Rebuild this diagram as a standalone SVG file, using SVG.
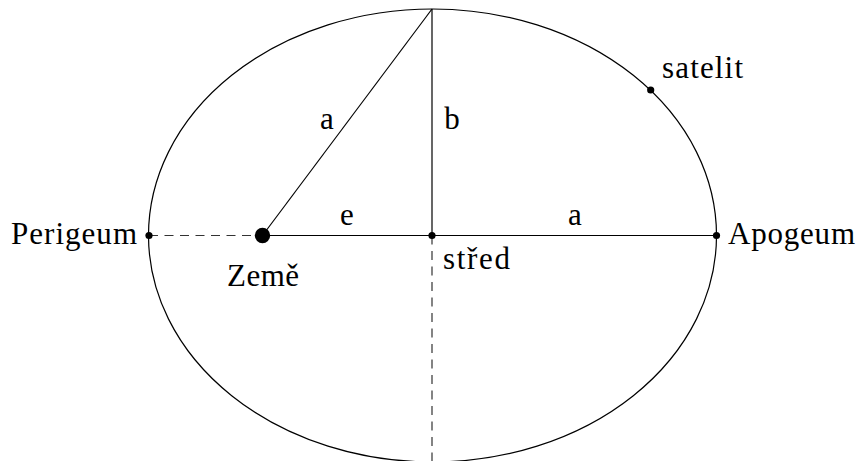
<svg xmlns="http://www.w3.org/2000/svg" width="859" height="461" viewBox="0 0 859 461">
<style>
.ln{stroke:#000;stroke-width:1.2;fill:none}
.ds{stroke:#333;stroke-width:1.2;fill:none;stroke-dasharray:9 6.5}
text{font-family:'Liberation Serif','Times New Roman',Tinos,'DejaVu Serif','Noto Serif',serif;font-size:31px;fill:#000}
</style>
<rect width="859" height="461" fill="#fff"/>
<g id="orbit"><ellipse class="ln" cx="432.5" cy="235.5" rx="284" ry="226.5"/></g>
<g id="connectors">
<line class="ds" x1="149" y1="235.5" x2="262.5" y2="235.5"/>
<line class="ds" x1="432" y1="235.5" x2="432" y2="461"/>
<line class="ln" x1="262.5" y1="235.5" x2="716.5" y2="235.5"/>
<line class="ln" x1="432" y1="235.5" x2="432" y2="9"/>
<line class="ln" x1="262.5" y1="235.5" x2="432" y2="9"/>
</g>
<g id="perigeum"><circle cx="149" cy="235.5" r="3.6"/><text x="137" y="243.5" text-anchor="end" textLength="126" font-family="Liberation Serif, serif">Perigeum</text></g>
<g id="zeme"><circle cx="262.5" cy="235.5" r="7.7"/><text x="263" y="285.5" text-anchor="middle" textLength="72" font-family="Liberation Serif, serif">Země</text></g>
<g id="stred"><circle cx="432" cy="235.5" r="3.6"/><text x="443" y="268.5" textLength="67" font-family="Liberation Serif, serif">střed</text></g>
<g id="apogeum"><circle cx="716.5" cy="235.5" r="3.6"/><text x="728" y="243.5" textLength="127" font-family="Liberation Serif, serif">Apogeum</text></g>
<g id="satelit"><circle cx="650.7" cy="90" r="3.6"/><text x="662" y="77.5" textLength="81" font-family="Liberation Serif, serif">satelit</text></g>
<g id="labels" font-family="Liberation Serif, serif">
<text x="327" y="129" text-anchor="middle">a</text>
<text x="452" y="129" text-anchor="middle">b</text>
<text x="347" y="224.5" text-anchor="middle">e</text>
<text x="575" y="224.5" text-anchor="middle">a</text>
</g>
</svg>
